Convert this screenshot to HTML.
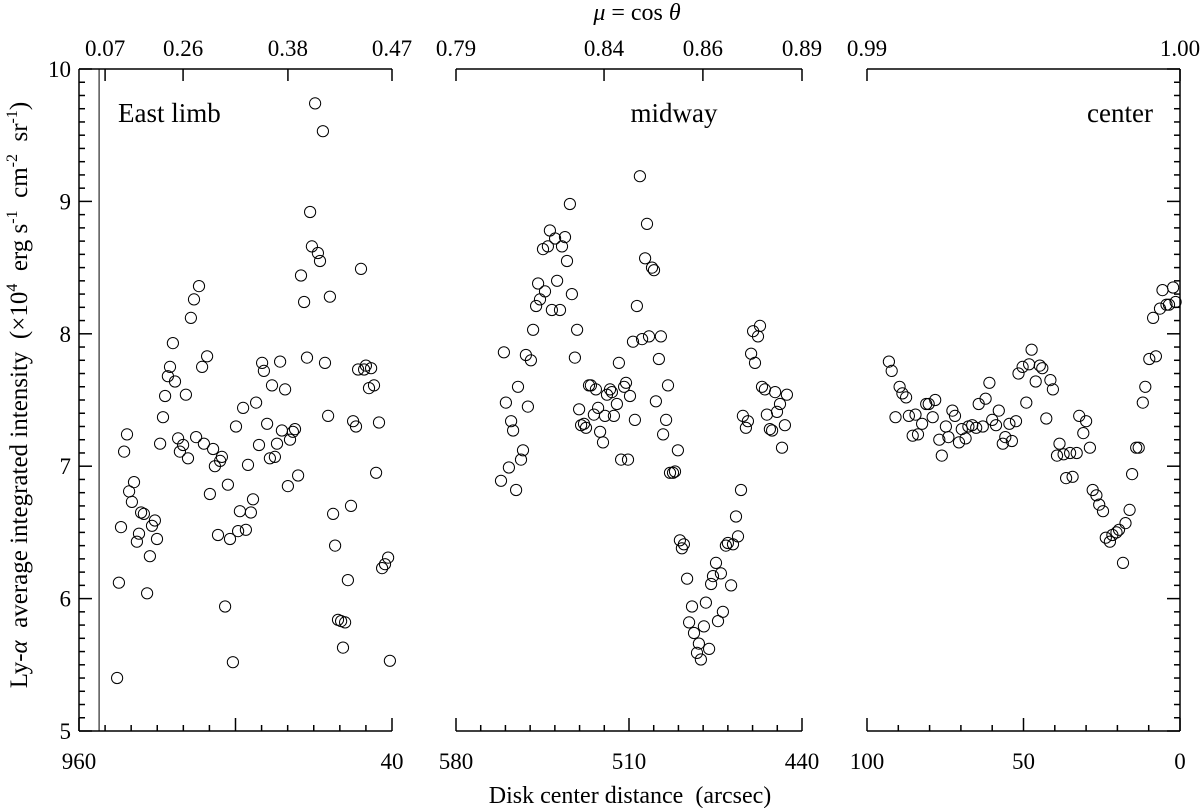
<!DOCTYPE html>
<html><head><meta charset="utf-8">
<style>
html,body{margin:0;padding:0;background:#fff;}
svg{display:block;font-family:"Liberation Serif",serif;}
</style></head>
<body>
<svg id="chart" width="1200" height="808" viewBox="0 0 1200 808" xmlns="http://www.w3.org/2000/svg">
<g id="axes"></g>
<g id="marks"></g>
<text x="637" y="20" font-size="24" text-anchor="middle"><tspan font-style="italic">μ</tspan> = cos <tspan font-style="italic">θ</tspan></text>
<text x="630" y="803" font-size="24" text-anchor="middle" xml:space="preserve">Disk center distance  (arcsec)</text>
<text transform="translate(27,395) rotate(-90)" font-size="25" text-anchor="middle" xml:space="preserve">Ly-<tspan font-style="italic">α</tspan>  average integrated intensity  (×10<tspan dy="-10" font-size="16">4</tspan><tspan dy="10">  erg s</tspan><tspan dy="-10" font-size="16">-1</tspan><tspan dy="10">  cm</tspan><tspan dy="-10" font-size="16">-2</tspan><tspan dy="10">  sr</tspan><tspan dy="-10" font-size="16">-1</tspan><tspan dy="10">)</tspan></text>
<text x="118" y="122" font-size="27">East limb</text>
<text x="674" y="122" font-size="27" text-anchor="middle">midway</text>
<text x="1153" y="122" font-size="27" text-anchor="end">center</text>
</svg>
<script>
// ---- data ----
const yTicks = [5,6,7,8,9,10];
const eastX = [945.4,944.7,943.9,942.7,941.6,940.8,939.7,938.9,937.8,937.0,936.2,935.1,933.9,932.8,932.0,930.9,930.1,928.9,927.8,927.0,925.9,925.1,924.0,923.2,922.0,921.3,920.1,919.0,918.2,917.1,915.9,915.1,914.0,912.8,912.1,910.9,909.8,908.6,907.9,906.7,905.9,905.2,904.0,902.9,902.1,901.0,899.8,899.0,898.3,897.1,896.0,895.2,894.1,893.3,892.1,891.0,889.8,889.1,887.9,886.8,886.0,884.9,884.1,882.9,882.2,881.0,879.9,879.1,878.0,877.2,876.0,874.9,873.7,872.6,871.4,870.7,869.5,868.4,867.6,866.5,865.7,864.5,863.8,862.6,861.8,860.7,859.5,858.8,858.0,856.9,855.7,854.9,853.8,853.0,851.9,850.7,850.0,848.8,848.0,846.9,846.1,845.0,843.8,842.7,841.5,840.8];
const eastY = [5.40,6.12,6.54,7.11,7.24,6.81,6.73,6.88,6.43,6.49,6.65,6.64,6.04,6.32,6.55,6.59,6.45,7.17,7.37,7.53,7.68,7.75,7.93,7.64,7.21,7.11,7.16,7.54,7.06,8.12,8.26,7.22,8.36,7.75,7.17,7.83,6.79,7.13,7.00,6.48,7.04,7.07,5.94,6.86,6.45,5.52,7.30,6.51,6.66,7.44,6.52,7.01,6.65,6.75,7.48,7.16,7.78,7.72,7.32,7.06,7.61,7.07,7.17,7.79,7.27,7.58,6.85,7.20,7.26,7.28,6.93,8.44,8.24,7.82,8.92,8.66,9.74,8.61,8.55,9.53,7.78,7.38,8.28,6.64,6.40,5.84,5.83,5.63,5.82,6.14,6.70,7.34,7.30,7.73,8.49,7.73,7.76,7.59,7.74,7.61,6.95,7.33,6.23,6.26,6.31,5.53];
const midX = [561.8,560.6,559.8,558.6,557.7,556.9,555.7,554.9,553.7,552.9,551.7,550.9,549.7,548.8,547.6,546.8,546.0,544.8,544.0,542.8,542.0,541.2,539.9,539.1,537.9,537.1,535.9,535.1,533.9,533.1,531.9,531.0,530.2,529.4,528.2,527.4,526.2,525.4,524.2,523.4,522.5,521.7,520.5,519.7,518.9,517.7,516.9,516.1,514.9,514.1,513.2,512.0,511.2,510.4,509.6,508.4,507.6,506.8,505.6,504.7,503.5,502.7,501.9,500.7,499.9,499.1,497.9,497.1,496.2,495.0,494.2,493.4,492.2,491.4,490.2,489.4,488.6,487.8,486.5,485.7,484.5,483.7,482.5,481.7,480.9,479.7,478.9,477.6,476.8,476.0,474.8,474.0,472.8,472.0,470.8,470.0,468.7,467.9,466.7,465.9,464.7,463.9,462.7,461.9,460.6,459.8,459.0,457.8,457.0,456.2,455.0,454.2,453.0,452.1,450.9,450.1,448.9,448.1,446.9,446.1];
const midY = [6.89,7.86,7.48,6.99,7.34,7.27,6.82,7.60,7.05,7.12,7.84,7.45,7.80,8.03,8.21,8.38,8.26,8.64,8.32,8.66,8.78,8.18,8.72,8.40,8.18,8.66,8.73,8.55,8.98,8.30,7.82,8.03,7.43,7.31,7.32,7.29,7.61,7.61,7.39,7.58,7.44,7.26,7.18,7.38,7.54,7.58,7.56,7.38,7.47,7.78,7.05,7.60,7.63,7.05,7.53,7.94,7.35,8.21,9.19,7.96,8.57,8.83,7.98,8.50,8.48,7.49,7.81,7.98,7.24,7.35,7.61,6.95,6.95,6.96,7.12,6.44,6.38,6.41,6.15,5.82,5.94,5.74,5.59,5.66,5.54,5.79,5.97,5.62,6.11,6.17,6.27,5.83,6.19,5.90,6.40,6.42,6.10,6.41,6.62,6.47,6.82,7.38,7.29,7.34,7.85,8.02,7.78,7.98,8.06,7.60,7.58,7.39,7.28,7.27,7.56,7.41,7.47,7.14,7.31,7.54];
const cenX = [93.0,92.1,90.9,89.6,88.7,87.5,86.6,85.4,84.5,83.7,82.4,81.1,80.3,79.0,78.2,76.9,76.1,74.8,74.0,72.7,71.9,70.6,69.7,68.5,67.6,66.4,65.1,64.3,63.0,62.1,60.9,60.0,58.8,57.9,56.6,55.8,54.5,53.7,52.4,51.6,50.3,49.1,48.2,47.4,46.1,44.8,44.0,42.7,41.4,40.6,39.3,38.5,37.2,36.4,35.1,34.3,33.0,32.2,30.9,30.0,28.8,27.9,26.7,25.8,24.6,23.7,22.4,21.6,20.3,19.5,18.2,17.4,16.1,15.3,14.0,13.2,11.9,11.1,9.8,8.6,7.7,6.4,5.6,4.3,3.5,2.2,1.4];
const cenY = [7.79,7.72,7.37,7.60,7.55,7.52,7.38,7.23,7.39,7.24,7.32,7.47,7.47,7.37,7.50,7.20,7.08,7.30,7.22,7.42,7.38,7.18,7.28,7.21,7.30,7.31,7.29,7.47,7.30,7.51,7.63,7.35,7.31,7.42,7.17,7.22,7.32,7.19,7.34,7.70,7.75,7.48,7.77,7.88,7.64,7.76,7.74,7.36,7.65,7.58,7.08,7.17,7.09,6.91,7.10,6.92,7.10,7.38,7.25,7.34,7.14,6.82,6.78,6.71,6.66,6.46,6.43,6.48,6.50,6.52,6.27,6.57,6.67,6.94,7.14,7.14,7.48,7.60,7.81,8.12,7.83,8.19,8.33,8.22,8.22,8.35,8.24];
const eastTopTicks = [0.07,0.26,0.38,0.47];
const eastTopPos = [950.0,920.1,879.9,840];
const midTopTicks = [0.79,0.84,0.86,0.89];
const midTopPos = [580,520.1,480.1,440];
const cenTopTicks = ["0.99","1.00"];
const cenTopPos = [100,0];

// ---- layout ----
const Y0 = 731, Y1 = 69;
const yScale = v => Y0 - (v - 5) / 5 * (Y0 - Y1);
const panels = [
  {name:'east', d0:960, d1:840, x0:79, x1:392, minor:10, major:[960,900,840], labels:[[960,'960'],[840,'40']], left:true, right:false, limb:952.3},
  {name:'mid', d0:580, d1:440, x0:456, x1:802, minor:10, major:[580,510,440], labels:[[580,'580'],[510,'510'],[440,'440']], left:false, right:false},
  {name:'cen', d0:100, d1:0, x0:867, x1:1180, minor:10, major:[100,50,0], labels:[[100,'100'],[50,'50'],[0,'0']], left:false, right:true}
];
panels.forEach(p => p.sx = d => p.x0 + (p.d0 - d) / (p.d0 - p.d1) * (p.x1 - p.x0));

const NS = 'http://www.w3.org/2000/svg';
const axes = document.getElementById('axes');
const marks = document.getElementById('marks');
function mk(tag, attrs, parent) {
  const e = document.createElementNS(NS, tag);
  for (const k in attrs) e.setAttribute(k, attrs[k]);
  parent.appendChild(e);
  return e;
}
function line(x1,y1,x2,y2,parent,w){ return mk('line',{x1:x1,y1:y1,x2:x2,y2:y2,stroke:'#000','stroke-width':w||1.5},parent); }

panels.forEach((p, pi) => {
  const g = mk('g', {}, axes);
  
  
  line(p.x0, Y0, p.x1, Y0, g);
  for (let d = p.d0; d >= p.d1 - 0.001; d -= p.minor) {
    const x = p.sx(d);
    const isMaj = p.major.some(m => Math.abs(m - d) < 0.01);
    line(x, Y0, x, Y0 - (isMaj ? 13 : 6), g);
  }
  p.labels.forEach(l => {
    const t = mk('text', {x: p.sx(l[0]), y: 769, 'font-size': 23, 'text-anchor': 'middle'}, g);
    
    
    t.textContent = l[1];
  });
  line(p.x0, Y1, p.x1, Y1, g);
  const tt = pi === 0 ? eastTopTicks : pi === 1 ? midTopTicks : cenTopTicks;
  const tp = pi === 0 ? eastTopPos : pi === 1 ? midTopPos : cenTopPos;
  tt.forEach((lab, i) => {
    const x = p.sx(tp[i]);
    line(x, Y1, x, Y1 + 12, g);
    const t = mk('text', {x: x, y: 56, 'font-size': 23, 'text-anchor': 'middle'}, g);
    
    
    t.textContent = typeof lab === 'number' ? lab.toFixed(2) : lab;
  });
  if (p.left || p.right) {
    const ax = p.left ? p.x0 : p.x1;
    const dir = p.left ? 1 : -1;
    line(ax, Y0, ax, Y1, g);
    for (let k = 0; k <= 50; k++) {
      const v = 5 + k * 0.1;
      const y = yScale(v);
      const maj = k % 10 === 0;
      line(ax, y, ax + dir * (maj ? 13 : 6), y, g);
    }
    if (p.left) {
      yTicks.forEach(v => {
        const t = mk('text', {x: ax - 8, y: yScale(v) + 8, 'font-size': 23, 'text-anchor': 'end'}, g);
        
        
        t.textContent = v;
      });
    }
  }
  if (p.limb) {
    const l = line(p.sx(p.limb), Y0, p.sx(p.limb), Y1, g, 1);
    
    
  }
});

const series = [[eastX, eastY, 0], [midX, midY, 1], [cenX, cenY, 2]];
series.forEach(s => {
  const p = panels[s[2]];
  const g = mk('g', {}, marks);
  
  
  s[0].forEach((d, i) => {
    const c = mk('circle', {cx: p.sx(d).toFixed(1), cy: yScale(s[1][i]).toFixed(1), r: 5.6, fill: 'none', stroke: '#000', 'stroke-width': 1}, g);
    
    
  });
});
</script>
</body></html>
